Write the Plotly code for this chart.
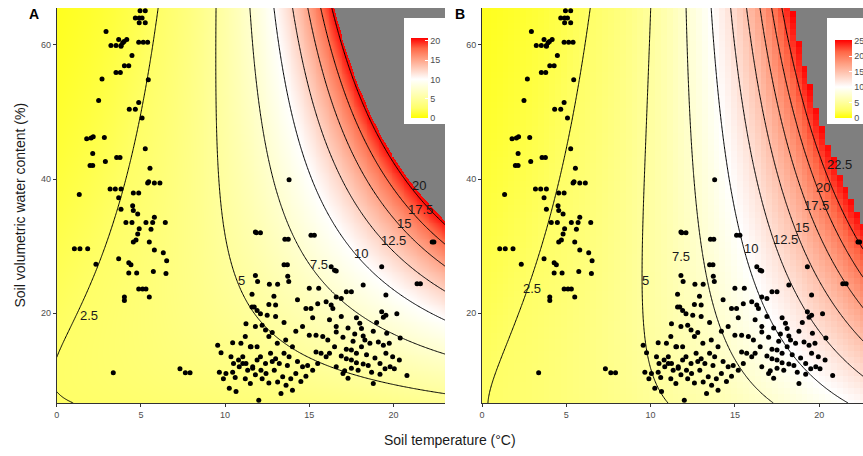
import numpy as np
import plotly.graph_objects as go

# ---------------- observed points (soil temperature °C, soil water %) ----------------
soil_temp = [4.95, 5.26, 4.67, 4.9, 5.07, 4.9, 5.26, 2.93, 3.68, 3.92, 4.16, 3.82, 4.0, 3.22, 3.52, 3.82,
             4.87, 5.14, 5.4, 4.47, 4.02, 4.28, 3.52, 3.78, 2.69, 5.44, 2.49, 4.87, 4.31, 4.67, 5.07,
             1.78, 2.04, 2.17, 2.83, 2.14, 5.26, 2.89, 3.56, 3.76, 1.98, 2.14, 5.54, 5.4, 5.46, 5.8, 6.13,
             3.17, 3.48, 3.82, 1.34, 3.68, 4.55, 4.87,
             3.82, 4.51, 4.55, 4.81, 4.11, 4.47, 5.3, 5.7, 5.8, 6.45, 4.9, 4.81, 5.6, 4.55, 4.71, 5.5,
             1.05, 1.38, 1.84, 5.8, 6.33, 2.33, 3.68, 4.28, 4.41, 6.53, 4.28, 4.75, 5.74, 6.49, 4.87,
             5.1, 5.3, 4.02, 4.02, 5.5, 3.36, 7.32, 7.64, 7.92,
             11.8, 11.8, 11.73, 11.24,
             9.56, 9.76, 10.45, 10.94, 11.54, 10.35, 11.05,
             9.66, 10.05, 10.45, 10.84, 11.05, 11.34, 11.64, 10.25, 10.65, 11.5, 9.9, 10.6, 11.2,
             11.85, 12.1, 13.55, 13.75, 15.1, 15.3, 13.5, 13.7, 11.93, 13.72, 13.78, 12.63, 13.12, 15.0,
             15.56, 16.3, 16.5, 16.6, 17.2, 17.5, 18.2, 19.3, 19.55, 21.4, 21.6, 22.3, 22.4, 13.8,
             16.6, 16.9, 16.0, 16.3, 16.4, 14.8, 15.1, 15.5, 12.6, 13.0, 12.5, 13.0, 11.6, 11.9, 12.1,
             11.8, 12.2, 12.4, 12.8, 11.2, 11.5, 11.9, 12.6, 13.1, 13.6, 14.0, 15.0, 15.4, 15.8, 16.1,
             16.5, 16.2, 16.6, 16.6, 17.8, 18.0, 18.1, 18.2, 18.3, 18.6, 18.1, 19.3, 19.4, 19.55, 20.2,
             19.1, 19.4, 19.75, 17.2, 17.5, 17.8, 17.2, 17.5, 17.8, 18.2, 18.5, 19.55, 19.95, 20.35,
             20.8, 20.05, 18.7, 19.2, 19.5, 17.0, 17.3, 18.8,
             11.24, 11.64, 12.13, 12.43, 12.92, 13.22, 13.42, 13.12, 13.62, 14.0, 13.32, 14.2, 14.6,
             14.9, 15.2, 13.8, 13.5, 12.7, 12.1, 12.0, 15.4, 15.7, 16.0, 17.1, 17.5, 17.9,
             10.5, 10.8, 11.9, 12.4, 12.8, 13.0, 13.7, 14.3, 14.5, 12.6, 12.2, 11.8, 13.9, 14.8, 15.5,
             16.6, 16.9, 18.9, 19.2, 19.8, 18.4, 17.6, 17.0, 17.3, 17.7, 18.8, 19.6, 20.4, 19.0, 16.9,
             16.2, 14.6, 15.2, 13.5, 14.2, 11.6, 12.9, 14.3]
soil_water = [65.1, 65.1, 64.0, 64.0, 64.0, 63.3, 63.3, 62.0, 60.8, 60.3, 60.8, 59.8, 60.5, 59.9, 59.9, 59.9,
              60.4, 60.4, 60.4, 58.4, 56.9, 56.9, 55.9, 55.9, 54.9, 54.8, 51.7, 51.4, 50.4, 50.4, 49.1,
              46.0, 46.1, 46.3, 46.2, 43.8, 44.5, 42.6, 43.2, 43.2, 42.0, 42.0, 41.6, 39.4, 39.6, 39.4, 39.4,
              38.5, 38.5, 38.5, 37.7, 37.2, 37.9, 37.9,
              35.5, 36.0, 35.3, 34.8, 33.5, 33.5, 33.5, 33.5, 34.3, 33.5, 32.6, 31.8, 32.5, 30.6, 30.9, 30.6,
              29.6, 29.6, 29.6, 29.4, 29.0, 27.3, 28.1, 27.5, 27.2, 27.8, 26.0, 26.0, 26.2, 25.9, 23.6,
              23.6, 23.6, 22.4, 21.9, 22.4, 11.1, 11.7, 11.1, 11.1,
              32.1, 25.6, 20.9, 18.4,
              15.2, 14.1, 15.6, 15.5, 15.0, 13.5, 13.5,
              11.2, 11.0, 11.2, 12.0, 12.5, 11.5, 11.8, 8.8, 8.3, 9.5, 10.2, 10.4, 10.2,
              32.0, 32.0, 31.0, 31.0, 31.6, 31.6, 27.2, 27.2, 24.7, 25.5, 24.7, 24.3, 24.3, 23.7,
              23.7, 26.9, 26.4, 26.3, 23.2, 23.2, 24.2, 26.9, 22.7, 24.4, 24.4, 30.6, 30.6, 39.9,
              22.4, 22.2, 21.7, 21.2, 20.7, 20.7, 20.7, 21.4, 21.3, 21.2, 19.7, 19.5, 20.9, 20.4, 19.9,
              18.0, 18.2, 17.5, 17.1, 16.5, 15.0, 15.0, 16.5, 15.5, 16.0, 15.0, 16.7, 16.7, 16.5, 16.0,
              15.0, 14.0, 18.0, 17.2, 19.3, 18.5, 17.7, 16.6, 16.0, 15.5, 15.0, 20.2, 19.4, 19.7, 19.9,
              15.7, 15.2, 15.5, 14.6, 14.5, 14.0, 13.2, 13.0, 12.6, 12.4, 12.2, 14.0, 13.5, 13.0,
              10.7, 11.7, 11.2, 10.9, 11.7, 11.0, 10.3, 9.5,
              12.5, 12.0, 11.5, 11.0, 11.5, 12.5, 10.5, 9.75, 9.25, 8.5, 8.0, 11.0, 12.0,
              12.2, 11.5, 13.5, 14.0, 14.0, 13.5, 7.0, 14.2, 14.0, 13.5, 11.4, 11.8, 11.5,
              12.5, 13.0, 13.0, 12.5, 12.8, 13.2, 12.2, 12.8, 9.8, 9.6, 10.2, 10.8, 10.2, 10.6, 12.5,
              12.0, 13.6, 13.3, 12.5, 12.0, 13.8, 15.8, 16.4, 17.8, 16.9, 17.3, 17.0, 16.3, 18.6, 19.5,
              19.0, 18.0, 19.3, 18.6, 17.3, 22.8, 22.5, 22.0]

# ---------------- fitted response surfaces (log-scale coefficients) ----
# ln(R) = a + c*(W - p*ln W) + (b + d*W) * T
coef_A = {"a": 0.425, "c": -0.0345, "p": 10.65, "b": 0.0064, "d": 0.00298}
coef_B = {"a": 0.766, "c": -0.027, "p": 6.0, "b": 0.0505, "d": 0.00218}
levels_A = [2.5, 5, 7.5, 10, 12.5, 15, 17.5, 20]
levels_B = [2.5, 5, 7.5, 10, 12.5, 15, 17.5, 20, 22.5]
limit_A = 20.6
limit_B = 25.2
cbar_ticks_A = [0, 5, 10, 15, 20]
cbar_ticks_B = [0, 5, 10, 15, 20, 25]
x_ticks = [0, 5, 10, 15, 20]
y_ticks = [20, 40, 60]

# contour label text placement (temperature, water) as in the original figure
label_T_A = [1.91, 10.99, 15.56, 18.07, 19.99, 20.6, 21.6, 21.5]
label_W_A = [19.7, 24.9, 27.3, 28.9, 30.8, 33.4, 35.4, 39.0]
label_T_B = [2.97, 9.68, 11.82, 15.97, 18.0, 18.98, 19.83, 20.25, 21.2]
label_W_B = [23.7, 24.8, 28.4, 29.6, 31.0, 32.8, 36.0, 38.8, 42.1]


def surface(coef, t, w):
    T, W = np.meshgrid(t, w)
    lnz = coef["a"] + coef["c"] * (W - coef["p"] * np.log(W)) + (coef["b"] + coef["d"] * W) * T
    return np.exp(lnz)


def lab_scale(mid_frac):
    yellow_white = ["rgb(255,255,0)", "rgb(255,255,103)", "rgb(255,255,157)", "rgb(255,255,207)", "rgb(255,255,255)"]
    white_red = ["rgb(255,255,255)", "rgb(255,207,190)", "rgb(255,158,129)", "rgb(255,103,70)", "rgb(255,0,0)"]
    cs = []
    for i, c in enumerate(yellow_white):
        cs.append([mid_frac * i / 4, c])
    for i, c in enumerate(white_red[1:], start=1):
        cs.append([mid_frac + (1 - mid_frac) * i / 4, c])
    return cs


W_MIN, W_MAX = 6.6, 65.5
T_MAX_A, T_MAX_B = 23.06, 22.6
FONT = "Liberation Sans, Arial, sans-serif"

FW, FH = 863, 456
def px(x):
    return x / FW
def py(y):
    return 1 - y / FH

fig = go.Figure()
annotations = []

panels = [
    ("x", "y", coef_A, levels_A, limit_A, cbar_ticks_A, 411, 20, T_MAX_A, 420, 420, label_T_A, label_W_A),
    ("x2", "y2", coef_B, levels_B, limit_B, cbar_ticks_B, 835, 25, T_MAX_B, 66, 66, label_T_B, label_W_B),
]

for xa, ya, coef, levels, limit, cticks, cbx, top_tick, tmax, nt, nw, lt, lw in panels:
    cb_bot = 118.3
    cb_top = cb_bot - limit * (118.3 - 40.7) / top_tick
    t_heat = np.linspace(0, tmax, nt)
    w_heat = np.linspace(W_MIN, W_MAX, nw)
    zh = surface(coef, t_heat, w_heat)
    zh = np.where(zh > limit, np.nan, zh)
    fig.add_trace(go.Heatmap(
        x=t_heat, y=w_heat, z=zh, xaxis=xa, yaxis=ya,
        zmin=0, zmax=limit, colorscale=lab_scale(10 / limit), hoverinfo="skip",
        colorbar=dict(x=px(cbx), xanchor="left", y=py((cb_bot + cb_top) / 2), yanchor="middle",
                      len=(cb_bot - cb_top) / FH, thickness=17, xpad=0, ypad=0, outlinewidth=0,
                      tickvals=cticks, ticks="inside", ticklen=3, tickcolor="white",
                      tickfont=dict(size=9, color="#4D4D4D", family=FONT))
    ))
    t_c = np.linspace(0, tmax, 300)
    w_c = np.linspace(W_MIN, W_MAX, 300)
    zc = surface(coef, t_c, w_c)
    fig.add_trace(go.Contour(
        x=t_c, y=w_c, z=zc, xaxis=xa, yaxis=ya, showscale=False, hoverinfo="skip",
        autocontour=False,
        contours=dict(start=levels[0], end=levels[-1], size=2.5, coloring="lines", showlabels=False),
        colorscale=[[0, "black"], [1, "black"]], line=dict(width=1)
    ))
    fig.add_trace(go.Scatter(
        x=soil_temp, y=soil_water, xaxis=xa, yaxis=ya, mode="markers",
        marker=dict(size=5, color="black"), showlegend=False, hoverinfo="skip"
    ))
    for lev, tx, wy in zip(levels, lt, lw):
        annotations.append(dict(text=f"{lev:g}", x=tx, y=wy, xref=xa, yref=ya, showarrow=False,
                                xanchor="center", yanchor="middle",
                                font=dict(size=13, color="#1A1A1A", family=FONT)))

axis_style = dict(showgrid=False, zeroline=False, showline=True, linecolor="#333333", linewidth=1,
                  ticks="outside", ticklen=3, tickcolor="#333333", automargin=False,
                  tickfont=dict(size=9, color="#4D4D4D", family=FONT))

annotations += [
    dict(text="<b>A</b>", x=px(34), y=py(14), xref="paper", yref="paper", showarrow=False,
         xanchor="center", yanchor="middle", font=dict(size=14, color="black", family=FONT)),
    dict(text="<b>B</b>", x=px(460), y=py(14), xref="paper", yref="paper", showarrow=False,
         xanchor="center", yanchor="middle", font=dict(size=14, color="black", family=FONT)),
    dict(text="Soil volumetric water content (%)", x=px(20), y=py(205.5), xref="paper", yref="paper",
         showarrow=False, textangle=-90, xanchor="center", yanchor="middle",
         font=dict(size=14, color="#1A1A1A", family=FONT)),
    dict(text="Soil temperature (°C)", x=px(450), y=py(440), xref="paper", yref="paper",
         showarrow=False, xanchor="center", yanchor="middle",
         font=dict(size=14, color="#1A1A1A", family=FONT)),
]

fig.update_layout(
    width=FW, height=FH, margin=dict(l=0, r=0, t=0, b=0, autoexpand=False),
    paper_bgcolor="white", plot_bgcolor="#7F7F7F", showlegend=False,
    xaxis=dict(domain=[px(56.7), px(445)], range=[0, T_MAX_A], tickvals=x_ticks, anchor="y", **axis_style),
    yaxis=dict(domain=[py(403), py(8)], range=[W_MIN, W_MAX], tickvals=y_ticks, anchor="x", **axis_style),
    xaxis2=dict(domain=[px(482), 1.0], range=[0, T_MAX_B], tickvals=x_ticks, anchor="y2", **axis_style),
    yaxis2=dict(domain=[py(403), py(8)], range=[W_MIN, W_MAX], tickvals=y_ticks, anchor="x2", **axis_style),
    shapes=[
        dict(type="rect", xref="paper", yref="paper", x0=px(404), x1=px(446), y0=py(124), y1=py(18),
             fillcolor="white", line=dict(width=0), layer="above"),
        dict(type="rect", xref="paper", yref="paper", x0=px(827), x1=1.0, y0=py(124), y1=py(18),
             fillcolor="white", line=dict(width=0), layer="above"),
    ],
    annotations=annotations,
)

fig.write_html("out.html", config={"displayModeBar": False},
               post_script="document.body.style.margin='0px';document.body.style.padding='0px';")
